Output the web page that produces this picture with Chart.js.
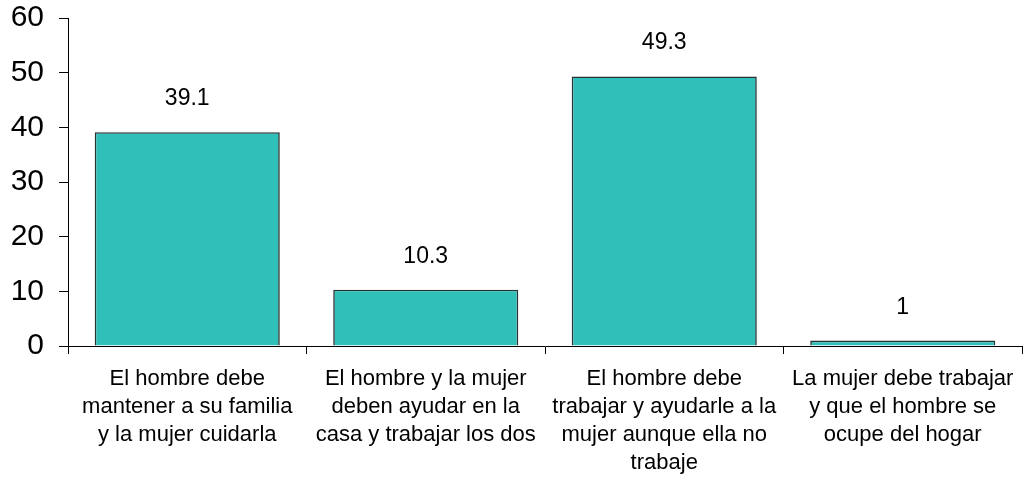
<!DOCTYPE html>
<html>
<head>
<meta charset="utf-8">
<script src="https://cdn.jsdelivr.net/npm/chart.js@4"></script>
<style>
html,body{margin:0;padding:0;background:#fff;}
#wrap{width:1027px;height:480px;}
</style>
</head>
<body>
<div id="wrap"><canvas id="c" width="1027" height="480"></canvas></div>
<script>
const categories = [
  ["El hombre debe", "mantener a su familia", "y la mujer cuidarla"],
  ["El hombre y la mujer", "deben ayudar en la", "casa y trabajar los dos"],
  ["El hombre debe", "trabajar y ayudarle a la", "mujer aunque ella no", "trabaje"],
  ["La mujer debe trabajar", "y que el hombre se", "ocupe del hogar"]
];
const values = [39.1, 10.3, 49.3, 1];
const valueLabels = ["39.1", "10.3", "49.3", "1"];
const yTicks = [0, 10, 20, 30, 40, 50, 60];

const FONT = "'Liberation Sans', Arial, sans-serif";

const labelPlugin = {
  id: 'valueLabels',
  afterDatasetsDraw(chart) {
    const ctx = chart.ctx;
    const meta = chart.getDatasetMeta(0);
    ctx.save();
    ctx.font = "23px " + FONT;
    ctx.fillStyle = "#000";
    ctx.textAlign = "center";
    ctx.textBaseline = "alphabetic";
    meta.data.forEach((bar, i) => {
      ctx.fillText(valueLabels[i], bar.x, bar.y - 27);
    });
    ctx.restore();
  }
};

new Chart(document.getElementById('c'), {
  type: 'bar',
  data: {
    labels: categories,
    datasets: [{
      data: values,
      backgroundColor: '#31BFBA',
      borderColor: '#263333',
      borderWidth: 1.6,
      categoryPercentage: 1,
      barPercentage: 0.776
    }]
  },
  options: {
    responsive: false,
    animation: false,
    devicePixelRatio: 1,
    layout: { padding: { top: 18, right: 5, left: 0, bottom: 0 } },
    plugins: { legend: { display: false }, tooltip: { enabled: false } },
    scales: {
      x: {
        offset: true,
        grid: {
          offset: true,
          drawOnChartArea: false,
          drawTicks: true,
          tickLength: 8,
          color: '#000',
          lineWidth: 1
        },
        border: { color: '#000', width: 1 },
        ticks: {
          color: '#000',
          font: { family: FONT, size: 22, lineHeight: 1.27 },
          padding: 11,
          maxRotation: 0,
          minRotation: 0,
          autoSkip: false
        },
        afterFit(scale) { scale.height = 134; scale.paddingLeft = 0; scale.paddingRight = 0; }
      },
      y: {
        min: 0,
        max: 60,
        afterBuildTicks(scale) { scale.ticks = yTicks.map(v => ({ value: v })); },
        grid: {
          drawOnChartArea: false,
          drawTicks: true,
          tickLength: 9,
          color: '#000',
          lineWidth: 1
        },
        border: { color: '#000', width: 1 },
        ticks: {
          color: '#000',
          font: { family: FONT, size: 30 },
          padding: 15
        },
        afterFit(scale) { scale.width = 68; scale.paddingTop = 0; scale.paddingBottom = 0; }
      }
    }
  },
  plugins: [labelPlugin]
});
</script>
</body>
</html>
